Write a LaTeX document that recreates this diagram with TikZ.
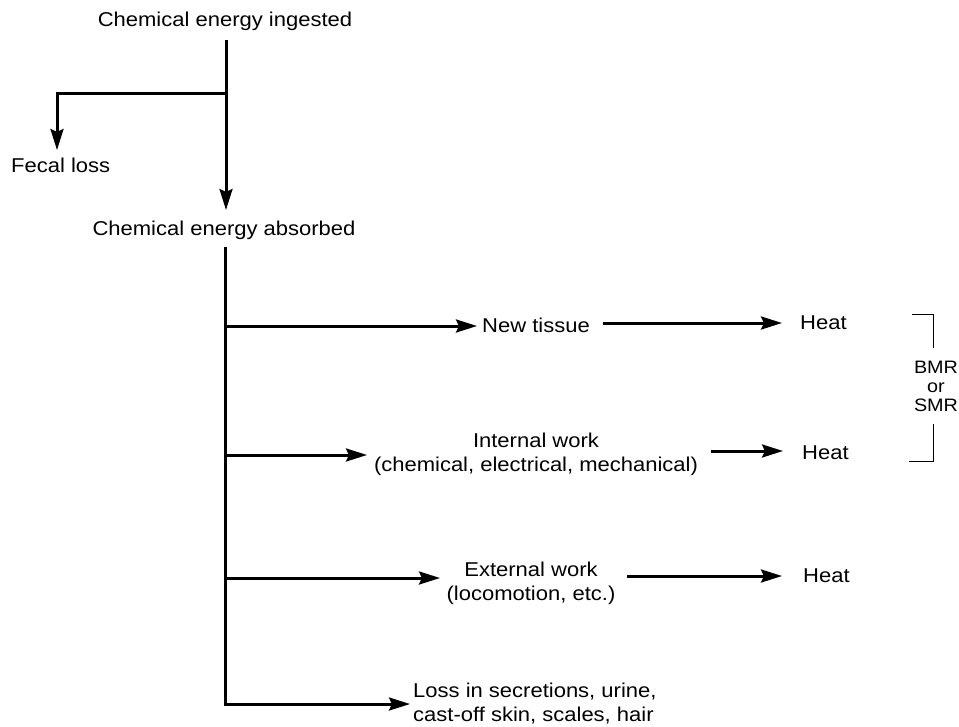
\documentclass[tikz,border=0pt]{standalone}
\usepackage{fontspec}
\setmainfont{Liberation Sans}[FakeStretch=1.1]
\usetikzlibrary{arrows.meta}
\begin{document}
\begin{tikzpicture}[x=1pt,y=-1pt,
  lbl/.style={inner sep=0pt, font=\fontsize{20}{24}\selectfont},
  small/.style={inner sep=0pt, align=center, font=\fontsize{18}{19}\selectfont},
  flow/.style={line width=3pt, -{Stealth[length=21pt,width=13pt,inset=3pt]}},
  brk/.style={line width=1pt}]
\useasboundingbox (0,0) rectangle (959,726);
% top part
\node[lbl] (ing) at (225,21) {Chemical energy ingested};
\coordinate (t0) at (226,40);
\coordinate (bf) at (226,93);
\coordinate (cf) at (57,93);
\coordinate (ft) at (57,150);
\coordinate (t1) at (226,210);
\node[lbl, anchor=west] (fecal) at (11,165) {Fecal loss};
\draw[flow] (t0) -- (t1);
\draw[flow] (bf) -- (cf) -- (ft);
\node[lbl] (abs) at (224,230) {Chemical energy absorbed};
% trunk
\coordinate (t2) at (225,247);
\coordinate (b1) at (225,326);
\coordinate (b2) at (225,455);
\coordinate (b3) at (225,578);
\coordinate (b4) at (225,704);
\coordinate (e1) at (477,326);
\coordinate (e2) at (367,455);
\coordinate (e3) at (440,578);
\coordinate (e4) at (410,704);
\draw[flow] (t2) -- (b4) -- (e4);
\draw[flow] (b1) -- (e1);
\draw[flow] (b2) -- (e2);
\draw[flow] (b3) -- (e3);
% labels
\node[lbl, anchor=west] (nt) at (482,325) {New tissue};
\node[lbl, align=center] (iw) at (536,454) {Internal work\\(chemical, electrical, mechanical)};
\node[lbl, align=center] (ew) at (531,583) {External work\\(locomotion, etc.)};
\node[lbl, align=left, anchor=west] (loss) at (413,704) {Loss in secretions, urine,\\cast-off skin, scales, hair};
\node[lbl, anchor=west] (h1) at (800,323) {Heat};
\node[lbl, anchor=west] (h2) at (802,453) {Heat};
\node[lbl, anchor=west] (h3) at (803,576) {Heat};
\coordinate (a1s) at (603,323);
\coordinate (a1e) at (782,323);
\coordinate (a2s) at (711,451);
\coordinate (a2e) at (783,451);
\coordinate (a3s) at (627,576);
\coordinate (a3e) at (782,576);
\draw[flow] (a1s) -- (a1e);
\draw[flow] (a2s) -- (a2e);
\draw[flow] (a3s) -- (a3e);
% bracket
\node[small] (bmr) at (936,386) {BMR\\or\\SMR};
\coordinate (k1) at (912,314);
\coordinate (k2) at (933,314);
\coordinate (k3) at (933,348);
\coordinate (k4) at (933,424);
\coordinate (k5) at (933,461);
\coordinate (k6) at (909,461);
\draw[brk] (k1) -- (k2) -- (k3);
\draw[brk] (k4) -- (k5) -- (k6);
\end{tikzpicture}
\end{document}
